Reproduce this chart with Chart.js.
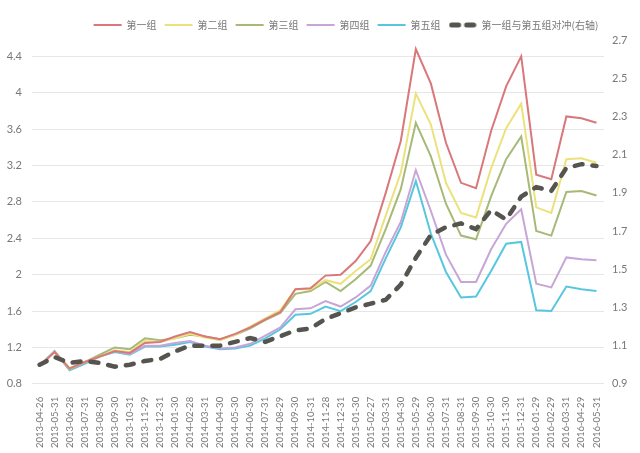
<!doctype html>
<html lang="zh">
  <head>
    <meta charset="utf-8">
    <title>分组净值</title>
    <style>
      * { margin: 0; padding: 0; }
      body { background: #fff; }
      .chartBox { width: 640px; height: 453px; }
    </style>
  </head>
  <body>
    <div class="chartBox">
      <canvas id="myChart"></canvas>
    </div>
    <script src="https://cdn.jsdelivr.net/npm/chart.js/dist/chart.umd.min.js"></script>
    <script>
    // month-end dates
    const dates = [
      '2013-04-26', '2013-05-31', '2013-06-28', '2013-07-31', '2013-08-30', '2013-09-30',
      '2013-10-31', '2013-11-29', '2013-12-31', '2014-01-30', '2014-02-28', '2014-03-31',
      '2014-04-30', '2014-05-30', '2014-06-30', '2014-07-31', '2014-08-29', '2014-09-30',
      '2014-10-31', '2014-11-28', '2014-12-31', '2015-01-30', '2015-02-27', '2015-03-31',
      '2015-04-30', '2015-05-29', '2015-06-30', '2015-07-31', '2015-08-31', '2015-09-30',
      '2015-10-30', '2015-11-30', '2015-12-31', '2016-01-29', '2016-02-29', '2016-03-31',
      '2016-04-29', '2016-05-31'
    ];

    // group net values (left axis)
    const group1 = [1.00, 1.15, 0.97, 1.04, 1.10, 1.16, 1.14, 1.25, 1.26, 1.32, 1.37, 1.32, 1.29, 1.35, 1.42, 1.51, 1.59, 1.84, 1.85, 1.99,
      2.00, 2.15, 2.37, 2.90, 3.47, 4.48, 4.10, 3.45, 3.01, 2.95, 3.58, 4.07, 4.40, 3.10, 3.05, 3.74, 3.72, 3.67];
    const group2 = [1.00, 1.15, 0.97, 1.04, 1.10, 1.17, 1.15, 1.27, 1.26, 1.30, 1.35, 1.31, 1.28, 1.34, 1.43, 1.52, 1.61, 1.84, 1.84, 1.94,
      1.90, 2.04, 2.17, 2.65, 3.12, 3.99, 3.65, 3.01, 2.68, 2.63, 3.17, 3.61, 3.88, 2.74, 2.68, 3.27, 3.28, 3.23];
    const group3 = [1.00, 1.15, 0.96, 1.04, 1.12, 1.20, 1.18, 1.30, 1.28, 1.30, 1.34, 1.32, 1.29, 1.34, 1.41, 1.50, 1.58, 1.79, 1.82, 1.92,
      1.82, 1.95, 2.10, 2.50, 2.94, 3.67, 3.30, 2.78, 2.43, 2.39, 2.86, 3.27, 3.52, 2.48, 2.43, 2.91, 2.92, 2.87];
    const group4 = [1.00, 1.15, 0.96, 1.03, 1.10, 1.16, 1.13, 1.22, 1.22, 1.25, 1.27, 1.22, 1.19, 1.20, 1.24, 1.33, 1.42, 1.62, 1.63, 1.71,
      1.65, 1.75, 1.88, 2.25, 2.58, 3.15, 2.70, 2.22, 1.92, 1.92, 2.28, 2.56, 2.72, 1.90, 1.86, 2.19, 2.17, 2.16];
    const group5 = [1.00, 1.16, 0.95, 1.02, 1.10, 1.15, 1.12, 1.21, 1.21, 1.23, 1.26, 1.21, 1.18, 1.19, 1.22, 1.30, 1.40, 1.56, 1.57, 1.65,
      1.60, 1.70, 1.82, 2.18, 2.52, 3.03, 2.45, 2.03, 1.75, 1.76, 2.04, 2.34, 2.36, 1.61, 1.60, 1.87, 1.84, 1.82];
    // group1 vs group5 hedge (right axis)
    const hedge = [1.00, 1.04, 1.01, 1.02, 1.01, 0.99, 1.00, 1.02, 1.03, 1.07, 1.10, 1.10, 1.10, 1.12, 1.14, 1.12, 1.15, 1.18, 1.19, 1.24,
      1.27, 1.30, 1.32, 1.34, 1.42, 1.56, 1.68, 1.72, 1.74, 1.71, 1.81, 1.76, 1.88, 1.93, 1.91, 2.03, 2.05, 2.04];

    const tickFont = { family: 'Lato, "Noto Sans CJK SC", sans-serif', size: 11 };
    const textColor = '#787878';
    const hedgeColor = '#55544f';

    // small dashed sample for the hedge legend entry
    const dashIcon = document.createElement('canvas');
    dashIcon.width = 28;
    dashIcon.height = 8;
    const dctx = dashIcon.getContext('2d');
    dctx.strokeStyle = hedgeColor;
    dctx.lineWidth = 5;
    dctx.lineCap = 'round';
    dctx.beginPath();
    dctx.moveTo(3, 4); dctx.lineTo(10, 4);
    dctx.moveTo(18, 4); dctx.lineTo(25, 4);
    dctx.stroke();

    // the legend sits a little right of centre in the original
    const legendShift = {
      id: 'legendShift',
      afterLayout: (chart) => {
        chart.legend.left += 26;
        chart.legend.right += 26;
      }
    };

    function line(label, values, color) {
      return {
        label: label,
        data: values,
        borderColor: color,
        backgroundColor: color,
        borderWidth: 2,
        pointRadius: 0,
        tension: 0,
        yAxisID: 'y'
      };
    }

    const data = {
      labels: dates,
      datasets: [
        line('第一组', group1, '#d9787a'),
        line('第二组', group2, '#ece27c'),
        line('第三组', group3, '#a7b976'),
        line('第四组', group4, '#c7a6d6'),
        line('第五组', group5, '#57c7e0'),
        {
          label: '第一组与第五组对冲(右轴)',
          data: hedge,
          borderColor: hedgeColor,
          backgroundColor: hedgeColor,
          borderWidth: 4.5,
          borderDash: [8, 10],
          borderCapStyle: 'round',
          pointRadius: 0,
          tension: 0,
          yAxisID: 'y1',
          order: -1
        }
      ]
    };

    const config = {
      type: 'line',
      data,
      plugins: [legendShift],
      options: {
        responsive: true,
        maintainAspectRatio: false,
        animation: false,
        layout: { padding: { top: 12, left: 0, right: 0, bottom: 0 } },
        plugins: {
          tooltip: { enabled: false },
          legend: {
            position: 'top',
            labels: {
              usePointStyle: true,
              pointStyleWidth: 28,
              boxWidth: 28,
              padding: 8,
              color: textColor,
              font: { family: '"Noto Sans CJK SC", sans-serif', size: 10 },
              sort: (a, b) => a.datasetIndex - b.datasetIndex,
              generateLabels: (chart) => {
                const items = Chart.defaults.plugins.legend.labels.generateLabels(chart);
                items.forEach((it) => {
                  it.pointStyle = it.datasetIndex === 5 ? dashIcon : 'line';
                });
                return items;
              }
            }
          }
        },
        scales: {
          x: {
            offset: true,
            grid: { display: false },
            border: { display: false },
            ticks: {
              autoSkip: false,
              minRotation: 90,
              maxRotation: 90,
              padding: 5,
              color: textColor,
              font: { family: tickFont.family, size: 9.5 }
            }
          },
          y: {
            position: 'left',
            min: 0.8,
            max: 4.58,
            grid: { color: '#e6e6e6', drawTicks: false },
            border: { display: false },
            ticks: {
              stepSize: 0.4,
              includeBounds: false,
              padding: 10,
              color: textColor,
              font: tickFont,
              callback: (v) => String(parseFloat(v.toFixed(1)))
            },
            afterFit: (scale) => { scale.width = 32; }
          },
          y1: {
            position: 'right',
            min: 0.9,
            max: 2.7,
            grid: { drawOnChartArea: false, drawTicks: false },
            border: { display: false },
            ticks: {
              stepSize: 0.2,
              padding: 8,
              color: textColor,
              font: tickFont,
              callback: (v) => v.toFixed(1)
            },
            afterFit: (scale) => { scale.width = 36; }
          }
        }
      }
    };

    const myChart = new Chart(document.getElementById('myChart'), config);
    </script>
  </body>
</html>
